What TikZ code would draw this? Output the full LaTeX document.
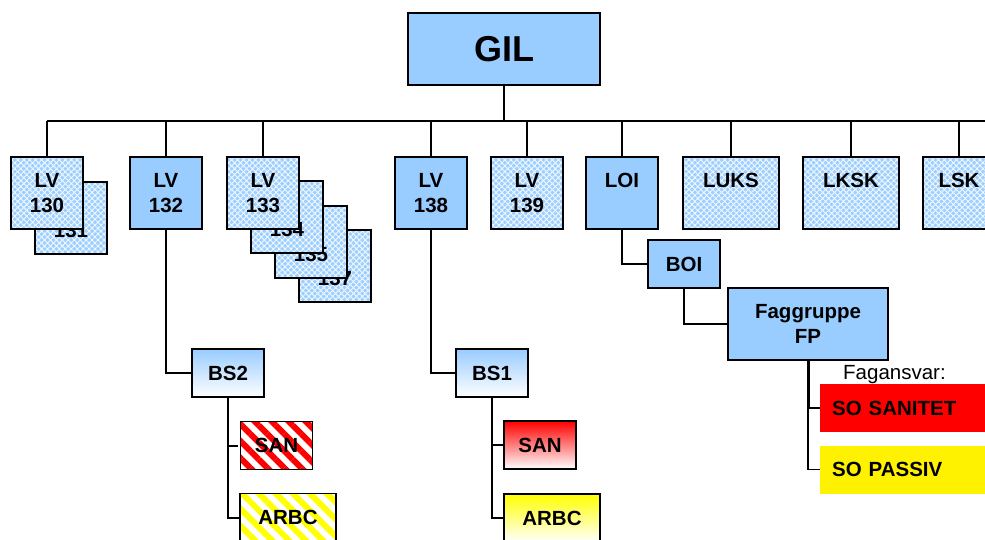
\documentclass[tikz,border=0pt]{standalone}
\usepackage{fontspec}
\setmainfont{Liberation Sans}
\usetikzlibrary{patterns,patterns.meta}
\definecolor{boxblue}{HTML}{99CCFF}
\definecolor{hatchblue}{HTML}{9ECFFF}
\begin{document}
\begin{tikzpicture}[x=1pt,y=-1pt,
  base/.style={draw=black, line width=1.8pt, inner sep=0pt, align=center,
    font=\fontsize{20.5}{25}\selectfont\bfseries},
  solidbox/.style={base, fill=boxblue},
  hatchbox/.style={base, preaction={fill=hatchblue}, pattern={Hatch[angle=45,distance=4.2pt,line width=0.9pt]}, pattern color=white!85!hatchblue},
  gradblue/.style={base, top color=boxblue, bottom color=white},
  gradred/.style={base, top color=red, bottom color=white},
  gradyellow/.style={base, top color=yellow, bottom color=white},
  stripered/.style={base, preaction={fill=white}, pattern={Lines[angle=-45,distance=12pt,line width=6pt]}, pattern color=red},
  stripeyellow/.style={base, preaction={fill=white}, pattern={Lines[angle=-45,distance=12pt,line width=6pt]}, pattern color=yellow},
  lvbox/.style={minimum width=72pt, minimum height=72pt},
  widebox/.style={minimum width=96pt, minimum height=72pt},
  smallbox/.style={minimum width=72pt, minimum height=48pt},
  arbcbox/.style={minimum width=96pt, minimum height=48pt},
  sobox/.style={inner sep=0pt, inner xsep=12pt, text width=160pt, align=left,
    minimum height=48pt, anchor=west, font=\fontsize{20.5}{25}\selectfont\bfseries},
  conn/.style={draw=black, line width=2pt}
]
\useasboundingbox (0,0) rectangle (985,540);

% top
\node[solidbox, minimum width=192pt, minimum height=72pt, font=\fontsize{36}{40}\selectfont\bfseries] (GIL) at (504,49) {GIL};

% top row
\node[hatchbox,lvbox] (LV131) at (71,218) {LV\\131};
\node[hatchbox,lvbox] (LV130) at (47,193) {LV\\130};
\node[solidbox,lvbox] (LV132) at (166,193) {LV\\132};
\node[hatchbox,lvbox] (LV137) at (335,266) {LV\\137};
\node[hatchbox,lvbox] (LV135) at (311,242) {LV\\135};
\node[hatchbox,lvbox] (LV134) at (287,217) {LV\\134};
\node[hatchbox,lvbox] (LV133) at (263,193) {LV\\133};
\node[solidbox,lvbox] (LV138) at (431,193) {LV\\138};
\node[hatchbox,lvbox] (LV139) at (527,193) {LV\\139};
\node[solidbox,lvbox] (LOI) at (622,193) {LOI\\\mbox{}};
\node[hatchbox,widebox] (LUKS) at (731,193) {LUKS\\\mbox{}};
\node[hatchbox,widebox] (LKSK) at (851,193) {LKSK\\\mbox{}};
\node[hatchbox,lvbox] (LSK) at (959,193) {LSK\\\mbox{}};

% lower levels
\node[solidbox,smallbox] (BOI) at (684,264) {BOI};
\node[solidbox, minimum width=160pt, minimum height=72pt] (FP) at (808,324) {Faggruppe\\FP};
\node[anchor=base west, inner sep=0pt, font=\fontsize{20.5}{24}\selectfont] (FA) at (843,379) {Fagansvar:};
\node[sobox, fill=red] (SOSAN) at (820,408) {SO SANITET};
\node[sobox, fill=yellow] (SOPAS) at (820,469.5) {SO PASSIV};

\node[gradblue,smallbox] (BS2) at (228,373) {BS2};
\node[stripered,smallbox] (SAN2) at (276.5,445.5) {SAN};
\node[stripeyellow,arbcbox] (ARBC2) at (288,517.5) {ARBC};

\node[gradblue,smallbox] (BS1) at (492,373) {BS1};
\node[gradred,smallbox] (SAN1) at (540,445) {SAN};
\node[gradyellow,arbcbox] (ARBC1) at (552,518) {ARBC};

% connectors
\coordinate (busL) at (47,121);
\coordinate (busR) at (985,121);
\draw[conn] (busL) -- (busR);
\draw[conn] (GIL.south) -- (GIL.south |- busL);
\foreach \n in {LV130,LV132,LV133,LV138,LV139,LOI,LUKS,LKSK,LSK}
  \draw[conn] (\n.north) -- (\n.north |- busL);
\draw[conn] (LV132.south) |- (BS2.west);
\draw[conn] (LV138.south) |- (BS1.west);
\draw[conn] (LOI.south) |- (BOI.west);
\draw[conn] (BOI.south) |- (FP.west);
\draw[conn] (BS2.south) |- (SAN2.west);
\draw[conn] (BS2.south) |- (ARBC2.west);
\draw[conn] (BS1.south) |- (SAN1.west);
\draw[conn] (BS1.south) |- (ARBC1.west);
\coordinate (fpj) at (FP.south |- SOSAN.west);
\draw[draw=black, line width=3pt] (FP.south) -- (fpj);
\draw[draw=black, line width=1.5pt] (fpj) -- (SOSAN.west);
\draw[draw=black, line width=1.5pt] (fpj) |- (SOPAS.west);
\end{tikzpicture}
\end{document}
